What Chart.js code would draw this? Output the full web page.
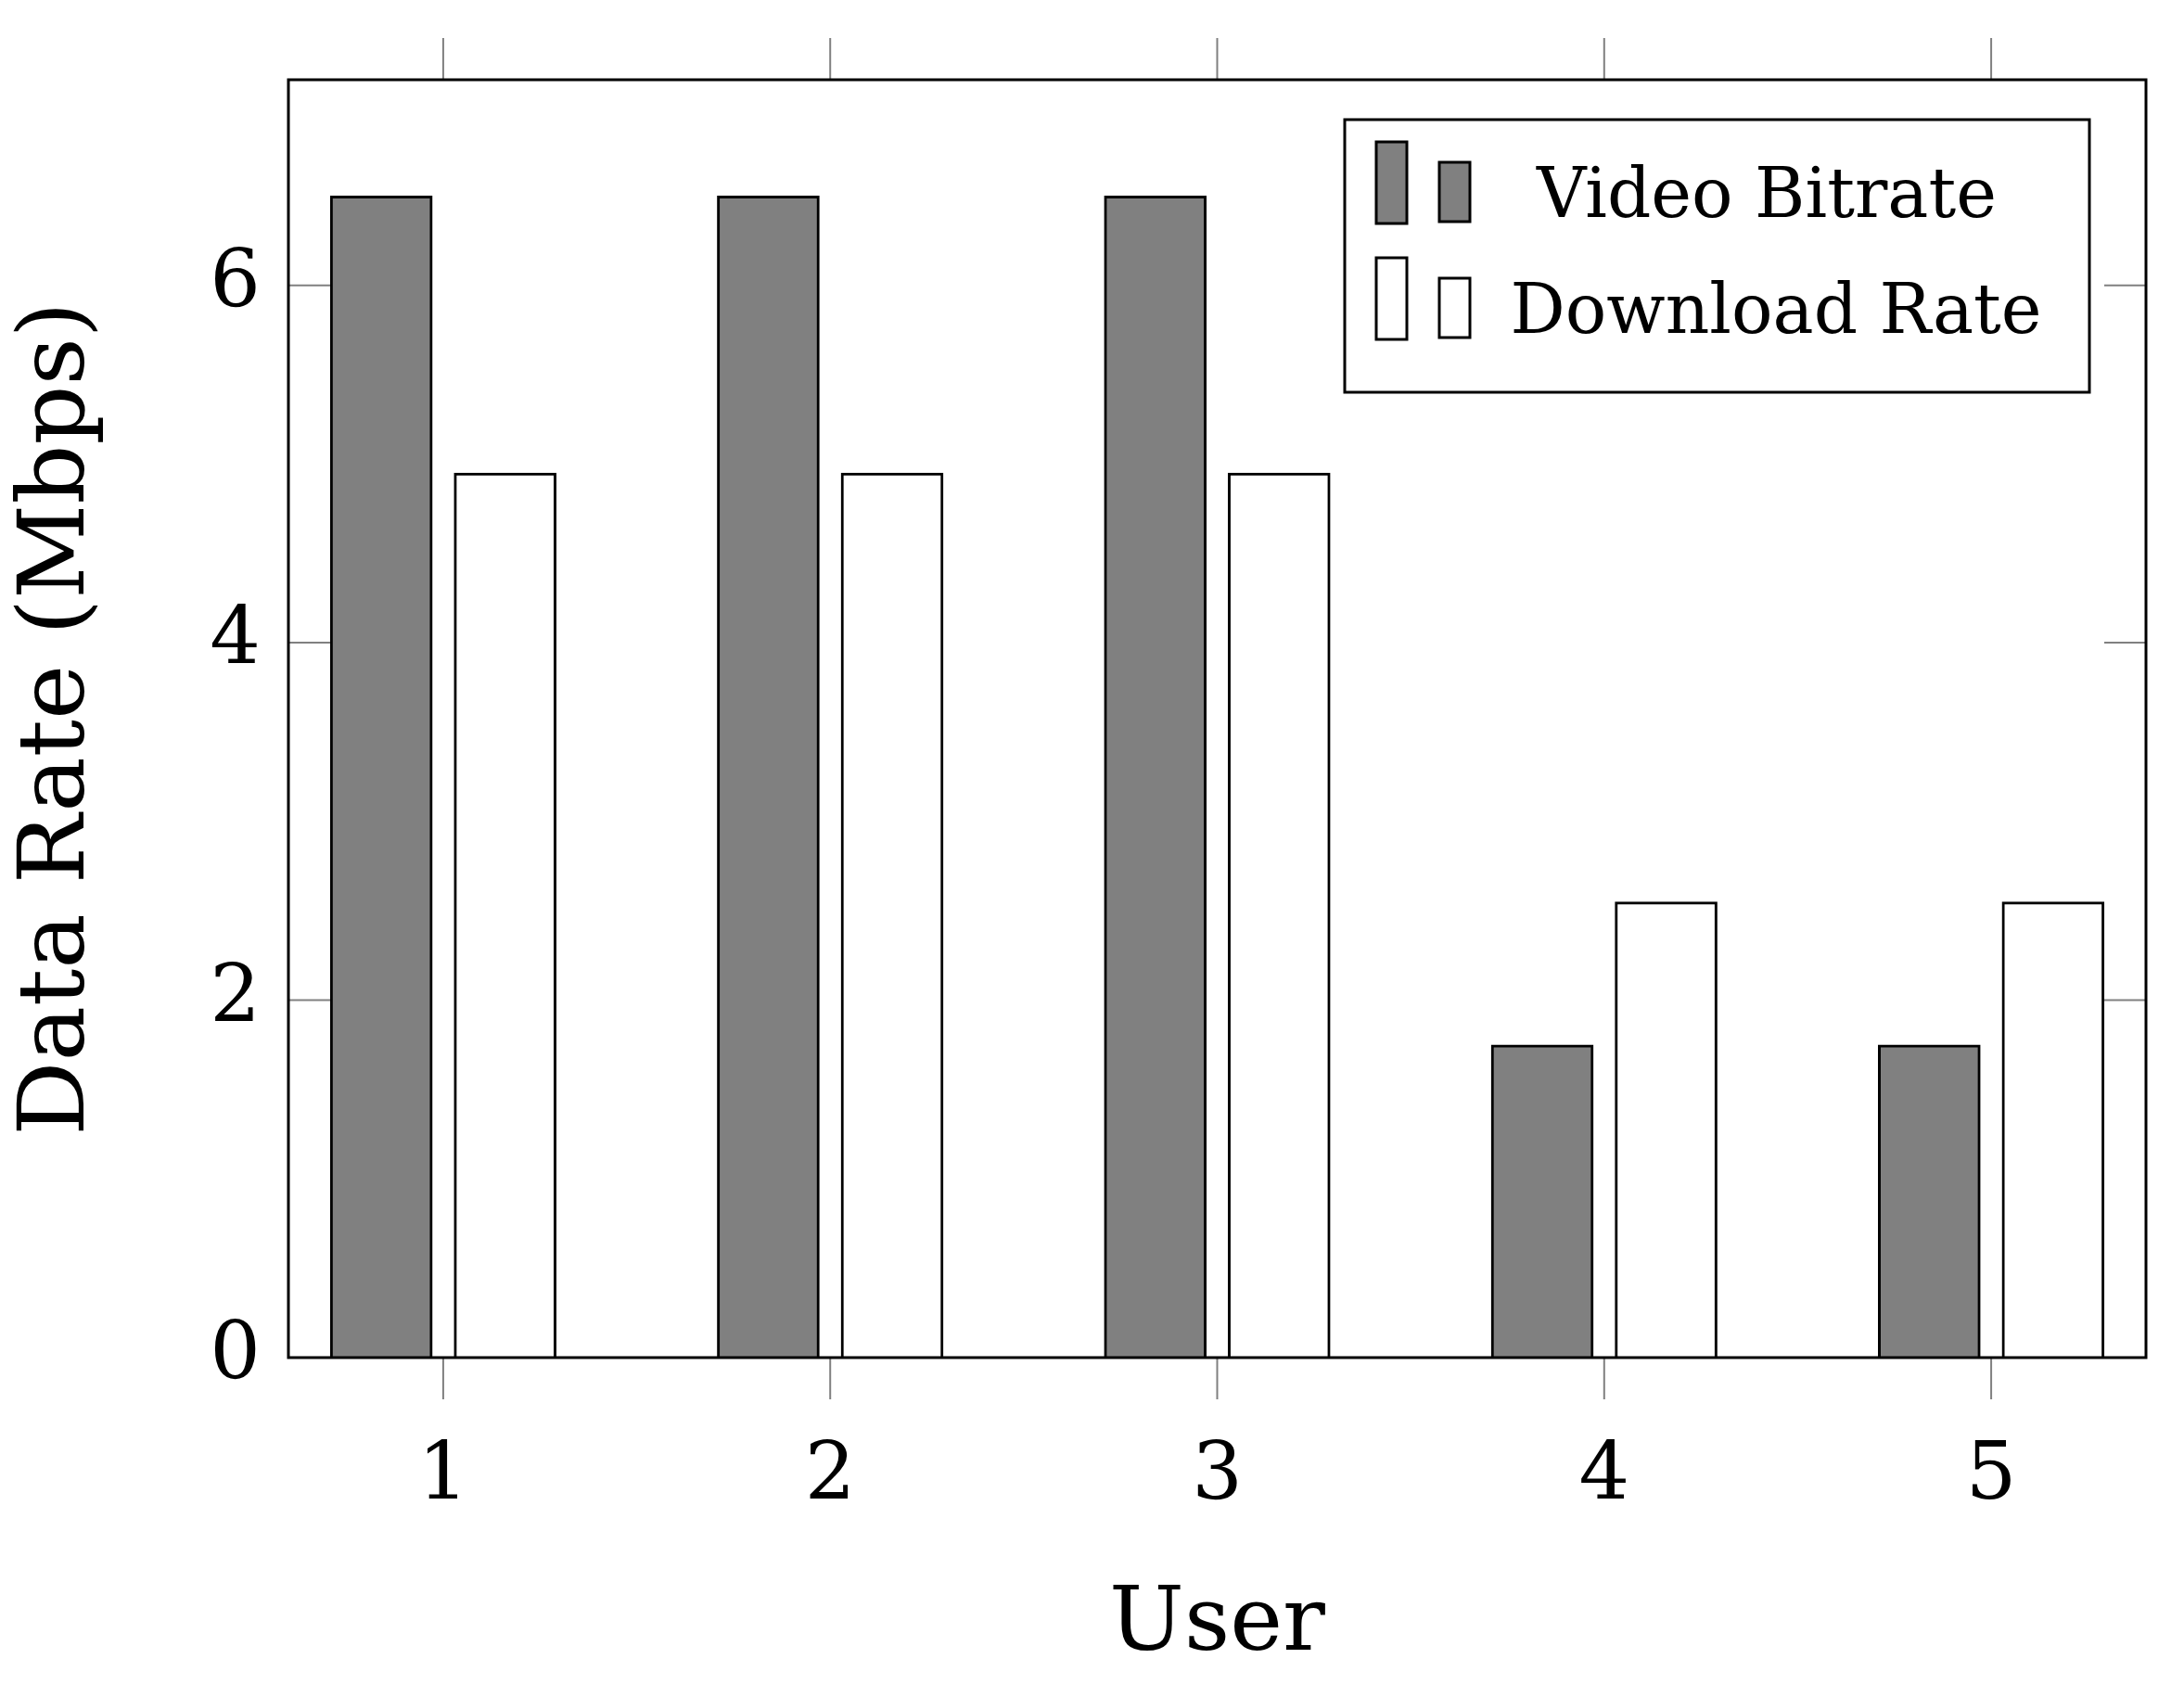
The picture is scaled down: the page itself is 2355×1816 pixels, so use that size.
<!DOCTYPE html>
<html>
<head>
<meta charset="utf-8">
<script src="https://cdn.jsdelivr.net/npm/chart.js@4"></script>
<style>
  html, body { margin: 0; padding: 0; background: #fff; }
  #wrap { width: 2355px; height: 1816px; }
</style>
</head>
<body>
<div id="wrap"><canvas id="chart" width="2355" height="1816"></canvas></div>
<script>
'use strict';

var users = [1, 2, 3, 4, 5];
var videoBitrate = [6.5, 6.5, 6.5, 1.75, 1.75];
var downloadRate = [4.95, 4.95, 4.95, 2.55, 2.55];
var yTicks = [0, 2, 4, 6];
var seriesNames = ['Video Bitrate', 'Download Rate'];

var FONT = '"DejaVu Serif", "Liberation Serif", serif';
var SHIFT = 0.16;

function points(vals, dx) {
  var out = [];
  for (var i = 0; i < users.length; i++) {
    out.push({ x: users[i] + dx, y: vals[i] });
  }
  return out;
}

// ticks on all sides + frame + legend
var decor = {
  id: 'decor',
  afterDraw: function (chart) {
    var c = chart.ctx, a = chart.chartArea;
    var xs = chart.scales.x, ys = chart.scales.y;
    c.save();
    c.strokeStyle = '#808080';
    c.lineWidth = 2;
    users.forEach(function (u) {
      var px = xs.getPixelForValue(u);
      c.beginPath();
      c.moveTo(px, a.top - 45); c.lineTo(px, a.top);
      c.moveTo(px, a.bottom); c.lineTo(px, a.bottom + 45);
      c.stroke();
    });
    yTicks.forEach(function (t) {
      var py = ys.getPixelForValue(t);
      c.beginPath();
      c.moveTo(a.left, py); c.lineTo(a.left + 45, py);
      c.moveTo(a.right - 45, py); c.lineTo(a.right, py);
      c.stroke();
    });
    c.strokeStyle = '#000';
    c.lineWidth = 3;
    c.strokeRect(a.left, a.top, a.right - a.left, a.bottom - a.top);

    // legend
    var lx = 1450, ly = 129, lw = 803, lh = 294;
    c.fillStyle = '#fff';
    c.fillRect(lx, ly, lw, lh);
    c.strokeRect(lx, ly, lw, lh);
    var fills = ['#808080', '#ffffff'];
    var rows = [215, 340];
    c.font = '74px ' + FONT;
    c.textBaseline = 'middle';
    for (var i = 0; i < 2; i++) {
      c.fillStyle = fills[i];
      c.lineWidth = 3;
      var top = rows[i] - 62;
      c.fillRect(1484, top, 33, 88);
      c.strokeRect(1484, top, 33, 88);
      c.fillRect(1552, rows[i] - 40, 33, 64);
      c.strokeRect(1552, rows[i] - 40, 33, 64);
      c.fillStyle = '#000';
      c.textAlign = 'center';
      c.fillText(seriesNames[i], i === 0 ? 1905 : 1915, rows[i]);
    }
    c.restore();
  }
};

new Chart(document.getElementById('chart').getContext('2d'), {
  type: 'bar',
  data: {
    datasets: [{
      label: seriesNames[0],
      data: points(videoBitrate, -SHIFT),
      backgroundColor: '#808080',
      borderColor: '#000',
      borderWidth: 3,
      barThickness: 110,
      grouped: false
    }, {
      label: seriesNames[1],
      data: points(downloadRate, SHIFT),
      backgroundColor: '#ffffff',
      borderColor: '#000',
      borderWidth: 3,
      barThickness: 110,
      grouped: false
    }]
  },
  options: {
    responsive: false,
    animation: false,
    layout: { padding: { top: 86, right: 41, left: 0, bottom: 0 } },
    plugins: { legend: { display: false }, tooltip: { enabled: false } },
    scales: {
      x: {
        type: 'linear', min: 0.6, max: 5.4,
        offset: false, bounds: 'data',
        afterFit: function (s) { s.height = 352; },
        grid: { display: false, offset: false },
        border: { display: false },
        ticks: {
          stepSize: 1, autoSkip: false, padding: 70, color: '#000',
          font: { family: FONT, size: 86 }
        },
        afterBuildTicks: function (s) { s.ticks = users.map(function (u) { return { value: u }; }); },
        title: { display: true, text: 'User', color: '#000', font: { family: FONT, size: 96 }, padding: { top: 20 } }
      },
      y: {
        min: 0, max: 7.15,
        afterFit: function (s) { s.width = 311; },
        afterBuildTicks: function (s) { s.ticks = yTicks.map(function (t) { return { value: t }; }); },
        grid: { display: false },
        border: { display: false },
        ticks: { color: '#000', padding: 22, font: { family: FONT, size: 86 } },
        title: { display: true, text: 'Data Rate (Mbps)', color: '#000', font: { family: FONT, size: 100 }, padding: { bottom: 10 } }
      }
    }
  },
  plugins: [decor]
});
</script>
</body>
</html>
